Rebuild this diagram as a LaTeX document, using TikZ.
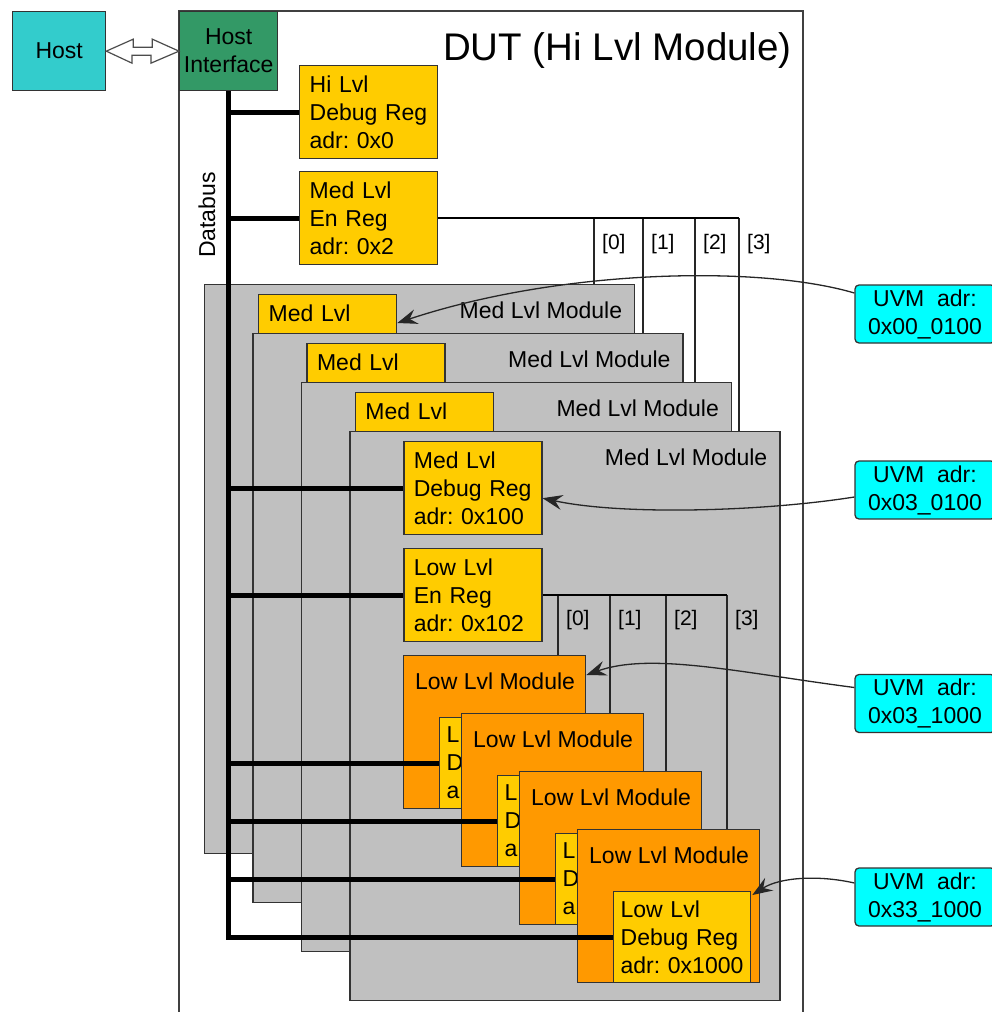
\documentclass[tikz,border=0pt]{standalone}
\usepackage{fontspec}
\setmainfont{Liberation Sans}
\usetikzlibrary{calc,arrows.meta}

\definecolor{hostcol}{RGB}{51,204,204}
\definecolor{ifcol}{RGB}{51,153,102}
\definecolor{regcol}{RGB}{255,204,0}
\definecolor{lowcol}{RGB}{255,153,0}
\definecolor{medcol}{RGB}{192,192,192}
\definecolor{uvmcol}{RGB}{0,255,255}

\tikzset{
  box/.style={draw=black!80, line width=1.3, rectangle, anchor=north west},
  regbox/.style={box, fill=regcol, minimum width=138, minimum height=93, text width=118, align=left},
  lowreg/.style={box, fill=regcol, minimum width=137, minimum height=91, text width=123, align=left},
  medmod/.style={box, fill=medcol, minimum width=430, minimum height=569},
  lowmod/.style={box, fill=lowcol, minimum width=182, minimum height=153},
  uvm/.style={draw=black!80, line width=1.3, fill=uvmcol, rounded corners=4,
    minimum width=140, minimum height=58, align=center},
  frame/.style={draw=black!75, line width=1.5},
  duttitle/.style={font=\fontsize{38.5}{46}\selectfont},
  bitlabel/.style={font=\fontsize{21}{25}\selectfont, anchor=west},
  bus/.style={line width=5, black},
  enbus/.style={line width=2.2, black},
  thinline/.style={line width=1.3, black!85},
  dblarrow/.style={draw=black!70, line width=1.2, fill=white},
  uvmarrow/.style={line width=1.3, black!85, -{Stealth[length=20pt,width=15pt,inset=7pt]}}
}

\begin{document}
\begin{tikzpicture}[x=1pt, y=-1pt, inner sep=0pt, font=\fontsize{23}{28}\selectfont\frenchspacing]
  \useasboundingbox (0,0) rectangle (992,1012);

  % --- DUT frame and title ---
  \draw[frame] (179,1012) -- (179,11) -- (803,11) -- (803,1012);
  \node[duttitle, anchor=base east] (dut) at (792,60) {DUT (Hi Lvl Module)};

  % --- Host and host interface ---
  \node[box, fill=hostcol, minimum width=93, minimum height=79] (host) at (12,11) {Host};
  \node[box, fill=ifcol, minimum width=98, minimum height=79, align=center] (hostif) at (179,11) {Host\\Interface};
  \draw[dblarrow] (host.east) -- ++(27,-12) -- ++(0,8) -- ++(19,0) -- ++(0,-8)
    -- (hostif.west) -- ++(-28,12) -- ++(0,-8) -- ++(-19,0) -- ++(0,8) -- cycle;
  \node[rotate=90] (dbus) at (207,215) {Databus};

  % --- Hi level registers ---
  \node[regbox] (hireg) at (299,65) {Hi Lvl\\Debug Reg\\adr: 0x0};
  \node[regbox] (enreg) at (299,171) {Med Lvl\\En Reg\\adr: 0x2};

  % --- Med level modules ---
  \foreach \i in {1,...,4} {
    \node[medmod] (mm\i) at ({204+48.4*(\i-1)},{284+49*(\i-1)}) {};
    \node[anchor=east] (mt\i) at ($(mm\i.north east)+(-13,26)$) {Med Lvl Module};
    \ifnum\i<4
      \node[regbox] (mreg\i) at ($(mm\i.north west)+(54,10)$) {Med Lvl\\\phantom{Debug Reg}\\\phantom{adr: 0x100}};
    \else
      \node[regbox] (mreg\i) at ($(mm\i.north west)+(54,10)$) {Med Lvl\\Debug Reg\\adr: 0x100};
    \fi
  }
  \node[regbox] (lenreg) at ($(mm4.north west)+(54,117)$) {Low Lvl\\En Reg\\adr: 0x102};

  % --- Low level modules ---
  \foreach \i in {1,...,4} {
    \node[lowmod] (lm\i) at ({403+58*(\i-1)},{655+58*(\i-1)}) {};
    \node[anchor=west] (lt\i) at ($(lm\i.north west)+(12,26)$) {Low Lvl Module};
    \ifnum\i<4
      \node[lowreg] (lreg\i) at ($(lm\i.north west)+(36,62)$) {L\\D\\a};
    \else
      \node[lowreg] (lreg\i) at ($(lm\i.north west)+(36,62)$) {Low Lvl\\Debug Reg\\adr: 0x1000};
    \fi
  }

  % --- Enable bits ---
  \foreach \i/\x/\b in {1/594/0,2/643/1,3/695/2,4/739/3} {
    \coordinate (mb\i) at (\x,0 |- enreg.east);
    \draw[thinline] (mb\i) -- (mb\i |- mm\i.north);
    \node[bitlabel] (mbl\i) at ($(mb\i)+(8,26)$) {[\b]};
  }
  \draw[enbus] (enreg.east) -- (mb4);
  \foreach \i/\x/\b in {1/558/0,2/610/1,3/666/2,4/727/3} {
    \coordinate (lb\i) at (\x,0 |- lenreg.east);
    \draw[thinline] (lb\i) -- (lb\i |- lm\i.north);
    \node[bitlabel] (lbl\i) at ($(lb\i)+(8,25)$) {[\b]};
  }
  \draw[enbus] (lenreg.east) -- (lb4);

  % --- Databus ---
  \draw[bus] (hostif.south) |- (lreg4.west);
  \foreach \r in {hireg,enreg,mreg4,lenreg,lreg1,lreg2,lreg3}
    \draw[bus] (hostif.south |- \r.west) -- (\r.west);

  % --- UVM addresses ---
  \node[uvm] (u1) at (925,314) {UVM~ adr:\\0x00\_0100};
  \node[uvm] (u2) at (925,490) {UVM~ adr:\\0x03\_0100};
  \node[uvm] (u3) at (925,703.5) {UVM~ adr:\\0x03\_1000};
  \node[uvm] (u4) at (925,897) {UVM~ adr:\\0x33\_1000};

  \draw[uvmarrow] ($(u1.west)+(0,-21)$) .. controls +(-95,-28) and +(163,-54) .. ($(mreg1.north east)+(0,29)$);
  \draw[uvmarrow] ($(u2.west)+(0,7)$) .. controls +(-95,15) and +(78,17) .. ($(mreg4.east)+(0,10)$);
  \draw[uvmarrow] ($(u3.west)+(0,-16)$) .. controls +(-115,-15) and +(65,-23) .. ($(lm1.north east)+(0,20)$);
  \draw[uvmarrow] ($(u4.west)+(0,-14)$) .. controls +(-35,-8) and +(28,-18) .. ($(lreg4.north east)+(1,4)$);

\end{tikzpicture}
\end{document}
